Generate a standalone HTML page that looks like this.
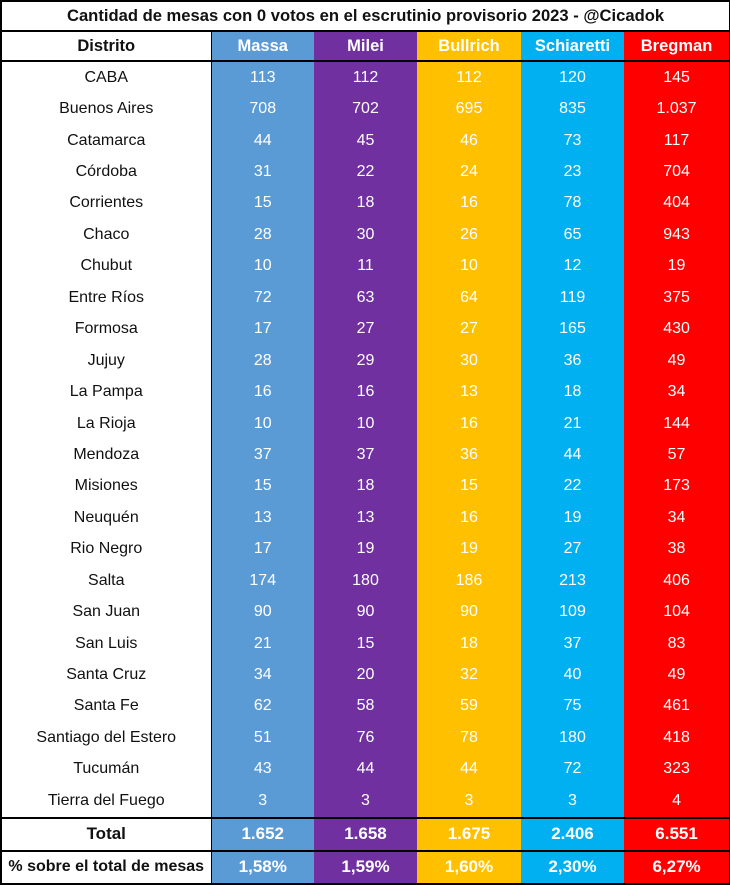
<!DOCTYPE html>
<html><head><meta charset="utf-8"><style>
body{margin:0;width:730px;height:882px;background:#fff;font-family:"Liberation Sans",sans-serif;overflow:hidden}
table{position:absolute;left:0;top:0;border-collapse:collapse;table-layout:fixed;width:729px}
td{padding:0;text-align:center;font-size:16px;color:#fff;height:31.45px;line-height:16px}
td:first-child{color:#111}
.t td{height:28px;font-weight:bold;color:#111;font-size:16.6px;border:2px solid #000;border-bottom:2px solid #000}
.h td{height:28px;font-weight:bold;font-size:16.5px;border-bottom:2px solid #000}
.h td:first-child{border-left:2px solid #000}
.f td{font-weight:bold;height:31px;border-top:2px solid #000;border-bottom:2px solid #000;font-size:17px}
tr td:first-child{border-left:2px solid #000;border-right:1px solid #000}
tr td:last-child{border-right:2px solid #000}
.c1{background:#5b9bd5}.c2{background:#7030a0}.c3{background:#ffc000}.c4{background:#00b0f0}.c5{background:#ff0000}
</style></head><body>
<table>
<colgroup><col style="width:210px"><col style="width:103px"><col style="width:103px"><col style="width:104px"><col style="width:103px"><col style="width:106px"></colgroup>
<tr class="t"><td colspan="6">Cantidad de mesas con 0 votos en el escrutinio provisorio 2023 - @Cicadok</td></tr>
<tr class="h"><td>Distrito</td><td class="c1">Massa</td><td class="c2">Milei</td><td class="c3">Bullrich</td><td class="c4">Schiaretti</td><td class="c5">Bregman</td></tr>
<tr><td>CABA</td><td class="c1">113</td><td class="c2">112</td><td class="c3">112</td><td class="c4">120</td><td class="c5">145</td></tr>
<tr><td>Buenos Aires</td><td class="c1">708</td><td class="c2">702</td><td class="c3">695</td><td class="c4">835</td><td class="c5">1.037</td></tr>
<tr><td>Catamarca</td><td class="c1">44</td><td class="c2">45</td><td class="c3">46</td><td class="c4">73</td><td class="c5">117</td></tr>
<tr><td>Córdoba</td><td class="c1">31</td><td class="c2">22</td><td class="c3">24</td><td class="c4">23</td><td class="c5">704</td></tr>
<tr><td>Corrientes</td><td class="c1">15</td><td class="c2">18</td><td class="c3">16</td><td class="c4">78</td><td class="c5">404</td></tr>
<tr><td>Chaco</td><td class="c1">28</td><td class="c2">30</td><td class="c3">26</td><td class="c4">65</td><td class="c5">943</td></tr>
<tr><td>Chubut</td><td class="c1">10</td><td class="c2">11</td><td class="c3">10</td><td class="c4">12</td><td class="c5">19</td></tr>
<tr><td>Entre Ríos</td><td class="c1">72</td><td class="c2">63</td><td class="c3">64</td><td class="c4">119</td><td class="c5">375</td></tr>
<tr><td>Formosa</td><td class="c1">17</td><td class="c2">27</td><td class="c3">27</td><td class="c4">165</td><td class="c5">430</td></tr>
<tr><td>Jujuy</td><td class="c1">28</td><td class="c2">29</td><td class="c3">30</td><td class="c4">36</td><td class="c5">49</td></tr>
<tr><td>La Pampa</td><td class="c1">16</td><td class="c2">16</td><td class="c3">13</td><td class="c4">18</td><td class="c5">34</td></tr>
<tr><td>La Rioja</td><td class="c1">10</td><td class="c2">10</td><td class="c3">16</td><td class="c4">21</td><td class="c5">144</td></tr>
<tr><td>Mendoza</td><td class="c1">37</td><td class="c2">37</td><td class="c3">36</td><td class="c4">44</td><td class="c5">57</td></tr>
<tr><td>Misiones</td><td class="c1">15</td><td class="c2">18</td><td class="c3">15</td><td class="c4">22</td><td class="c5">173</td></tr>
<tr><td>Neuquén</td><td class="c1">13</td><td class="c2">13</td><td class="c3">16</td><td class="c4">19</td><td class="c5">34</td></tr>
<tr><td>Rio Negro</td><td class="c1">17</td><td class="c2">19</td><td class="c3">19</td><td class="c4">27</td><td class="c5">38</td></tr>
<tr><td>Salta</td><td class="c1">174</td><td class="c2">180</td><td class="c3">186</td><td class="c4">213</td><td class="c5">406</td></tr>
<tr><td>San Juan</td><td class="c1">90</td><td class="c2">90</td><td class="c3">90</td><td class="c4">109</td><td class="c5">104</td></tr>
<tr><td>San Luis</td><td class="c1">21</td><td class="c2">15</td><td class="c3">18</td><td class="c4">37</td><td class="c5">83</td></tr>
<tr><td>Santa Cruz</td><td class="c1">34</td><td class="c2">20</td><td class="c3">32</td><td class="c4">40</td><td class="c5">49</td></tr>
<tr><td>Santa Fe</td><td class="c1">62</td><td class="c2">58</td><td class="c3">59</td><td class="c4">75</td><td class="c5">461</td></tr>
<tr><td>Santiago del Estero</td><td class="c1">51</td><td class="c2">76</td><td class="c3">78</td><td class="c4">180</td><td class="c5">418</td></tr>
<tr><td>Tucumán</td><td class="c1">43</td><td class="c2">44</td><td class="c3">44</td><td class="c4">72</td><td class="c5">323</td></tr>
<tr><td>Tierra del Fuego</td><td class="c1">3</td><td class="c2">3</td><td class="c3">3</td><td class="c4">3</td><td class="c5">4</td></tr>
<tr class="f"><td>Total</td><td class="c1">1.652</td><td class="c2">1.658</td><td class="c3">1.675</td><td class="c4">2.406</td><td class="c5">6.551</td></tr>
<tr class="f"><td style="font-size:16px">% sobre el total de mesas</td><td class="c1">1,58%</td><td class="c2">1,59%</td><td class="c3">1,60%</td><td class="c4">2,30%</td><td class="c5">6,27%</td></tr>
</table>
</body></html>
